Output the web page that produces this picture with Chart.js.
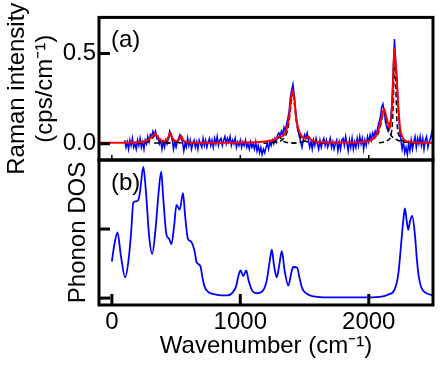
<!DOCTYPE html>
<html>
<head>
<meta charset="utf-8">
<script src="https://cdn.jsdelivr.net/npm/chart.js@4.4.1/dist/chart.umd.min.js"></script>
<style>
  html, body { margin: 0; padding: 0; background: #fff; }
  #wrap { position: relative; width: 442px; height: 367px; }
  #wrap canvas { position: absolute; left: 0; top: 0; }
</style>
</head>
<body>
<div id="wrap">
  <canvas id="dosChart" width="442" height="367"></canvas>
  <canvas id="ramanChart" width="442" height="367"></canvas>
</div>
<script>
// tick positions
const wnTicks = [0, 1000, 2000];
const ramanTicks = [0, 0.5];
const dosTicks = [0, 1];

// measured Raman spectrum, 100..2500 cm-1 every 10 cm-1
const blueStart = 100;
const blueStep = 10;
const ramanMeasured = [
  0.02, -0.02, 0.01, -0.03, 0.02, -0.01, 0.03, -0.02, 0.00, -0.03,
  0.02, -0.01, 0.03, -0.02, 0.01, -0.03, 0.02, 0.00, 0.04, 0.01,
  0.05, 0.04, 0.07, 0.05, 0.07, 0.03, 0.04, 0.00, 0.02, -0.03,
  0.01, -0.02, 0.02, 0.00, 0.03, 0.07, 0.05, 0.02, -0.03, 0.01,
  -0.02, 0.01, 0.03, 0.05, 0.03, 0.01, -0.04, 0.00, -0.02, 0.03,
  -0.01, 0.02, -0.03, 0.00, 0.02, -0.02, 0.01, -0.03, 0.02, 0.00,
  -0.02, 0.03, -0.01, 0.02, -0.02, 0.01, 0.03, -0.01, 0.02, -0.02,
  0.03, 0.00, 0.04, -0.01, 0.02, 0.03, -0.01, 0.02, 0.04, 0.00,
  0.03, 0.01, 0.04, -0.01, 0.02, 0.00, 0.03, -0.02, 0.01, -0.01,
  0.02, -0.02, 0.01, -0.01, 0.02, -0.02, 0.00, -0.03, 0.01, -0.02,
  0.00, -0.03, 0.01, -0.04, -0.01, -0.05, -0.02, -0.06, -0.03, -0.05,
  -0.02, 0.00, -0.03, 0.01, -0.01, 0.02, 0.00, 0.03, 0.01, 0.05,
  0.06, 0.04, 0.07, 0.05, 0.09, 0.07, 0.11, 0.14, 0.18, 0.26,
  0.30, 0.33, 0.27, 0.19, 0.12, 0.07, 0.04, 0.01, -0.02, 0.02,
  0.05, 0.03, 0.06, 0.02, -0.02, 0.01, -0.03, 0.02, -0.01, 0.03,
  0.00, -0.03, 0.02, -0.02, 0.01, 0.03, -0.01, 0.02, -0.02, 0.00,
  0.03, -0.02, 0.01, -0.03, 0.00, 0.02, -0.04, 0.01, -0.03, 0.02,
  0.03, -0.01, 0.04, 0.00, -0.04, 0.02, -0.02, 0.03, -0.03, 0.01,
  -0.02, 0.03, -0.01, 0.04, 0.00, 0.03, -0.03, 0.02, -0.01, 0.04,
  0.01, 0.05, 0.02, 0.06, 0.04, 0.07, 0.05, 0.09, 0.12, 0.15,
  0.20, 0.22, 0.18, 0.12, 0.09, 0.07, 0.10, 0.13, 0.22, 0.40,
  0.58, 0.45, 0.36, 0.20, 0.08, 0.02, -0.03, 0.01, -0.05, -0.02,
  -0.06, 0.00, -0.04, 0.02, -0.03, 0.01, 0.04, -0.02, 0.03, 0.00,
  0.04, -0.01, 0.03, -0.03, 0.02, 0.04, -0.02, 0.01, 0.03, 0.06,
  0.02
];

// fitted curve
const fitWn = [-100, 0, 100, 200, 250, 280, 300, 320, 335, 350, 370, 390, 410, 430, 445, 456, 467, 485, 510, 528, 540, 552, 575, 650, 800, 1000, 1150, 1220, 1260, 1290, 1305, 1320, 1340, 1360, 1380, 1395, 1408, 1420, 1435, 1455, 1480, 1500, 1515, 1528, 1545, 1580, 1700, 1850, 1950, 2000, 2036, 2060, 2075, 2098, 2119, 2140, 2165, 2185, 2199, 2212, 2225, 2243, 2260, 2282, 2320, 2400, 2500];
const fitVal = [0.005, 0.005, 0.006, 0.008, 0.012, 0.02, 0.03, 0.045, 0.055, 0.045, 0.025, 0.015, 0.015, 0.025, 0.045, 0.062, 0.04, 0.018, 0.015, 0.028, 0.045, 0.025, 0.01, 0.006, 0.005, 0.007, 0.01, 0.015, 0.022, 0.035, 0.042, 0.04, 0.05, 0.08, 0.15, 0.25, 0.296, 0.25, 0.14, 0.075, 0.04, 0.03, 0.035, 0.042, 0.025, 0.012, 0.007, 0.007, 0.01, 0.015, 0.028, 0.05, 0.074, 0.139, 0.194, 0.139, 0.083, 0.26, 0.528, 0.42, 0.26, 0.092, 0.04, 0.018, 0.01, 0.006, 0.005];

// fit components [wavenumber, intensity]
const comp335 = [[200, 0.003], [280, 0.01], [310, 0.025], [335, 0.045], [360, 0.025], [390, 0.01], [470, 0.003]];
const comp456 = [[330, 0.003], [420, 0.012], [445, 0.035], [456, 0.055], [467, 0.035], [490, 0.012], [580, 0.003]];
const comp540 = [[420, 0.003], [510, 0.01], [530, 0.025], [540, 0.04], [550, 0.025], [570, 0.01], [680, 0.003]];
const comp1305 = [[1180, 0.003], [1270, 0.012], [1295, 0.03], [1305, 0.038], [1315, 0.03], [1340, 0.012], [1430, 0.003]];
const comp1408 = [[1250, 0.005], [1340, 0.03], [1375, 0.1], [1395, 0.22], [1408, 0.29], [1421, 0.22], [1441, 0.1], [1476, 0.03], [1560, 0.005]];
const comp1528 = [[1400, 0.003], [1490, 0.012], [1515, 0.03], [1528, 0.038], [1540, 0.03], [1565, 0.012], [1650, 0.003]];
const comp2119 = [[1960, 0.01], [2030, 0.025], [2075, 0.06], [2098, 0.12], [2119, 0.18], [2140, 0.12], [2163, 0.06], [2210, 0.025], [2280, 0.01], [2380, 0.005]];
const comp2203 = [[2080, 0.005], [2150, 0.02], [2180, 0.08], [2192, 0.25], [2201, 0.5], [2210, 0.32], [2220, 0.12], [2240, 0.04], [2290, 0.01], [2380, 0.004]];

// phonon density of states
const dosWn = [0, 20, 44, 70, 103, 130, 150, 167, 185, 206, 220, 245, 265, 290, 314, 340, 365, 384, 400, 425, 445, 464, 485, 503, 528, 554, 570, 592, 615, 644, 660, 690, 705, 721, 750, 786, 850, 900, 940, 967, 985, 1002, 1023, 1046, 1065, 1095, 1130, 1173, 1205, 1230, 1245, 1262, 1284, 1305, 1323, 1345, 1374, 1395, 1412, 1443, 1460, 1482, 1520, 1559, 1700, 1900, 2000, 2100, 2150, 2200, 2230, 2255, 2270, 2281, 2295, 2307, 2322, 2338, 2360, 2375, 2390, 2410, 2440, 2480, 2500];
const dosVal = [0.53, 0.78, 0.95, 0.62, 0.30, 0.55, 0.95, 1.38, 1.40, 1.42, 1.55, 1.90, 1.55, 0.90, 0.64, 1.0, 1.55, 1.83, 1.45, 0.92, 0.86, 0.78, 1.05, 1.35, 1.28, 1.52, 1.2, 0.86, 0.82, 0.68, 0.52, 0.46, 0.30, 0.17, 0.09, 0.06, 0.04, 0.04, 0.08, 0.17, 0.32, 0.40, 0.32, 0.40, 0.25, 0.10, 0.07, 0.10, 0.25, 0.55, 0.70, 0.48, 0.30, 0.50, 0.68, 0.40, 0.18, 0.35, 0.45, 0.44, 0.30, 0.14, 0.06, 0.03, 0.01, 0.01, 0.01, 0.02, 0.05, 0.12, 0.35, 0.85, 1.15, 1.30, 1.12, 0.99, 1.12, 1.19, 0.9, 0.55, 0.3, 0.15, 0.08, 0.05, 0.04];

Chart.defaults.font.family = '"Liberation Sans", Arial, sans-serif';
Chart.defaults.color = '#000';

const pairs = (xs, ys) => xs.map((x, i) => ({ x: x, y: ys[i] }));
const fromPairs = list => list.map(p => ({ x: p[0], y: p[1] }));

// frame, inward ticks and panel letter
const framePlugin = {
  id: 'frame',
  afterDraw(chart, args, opts) {
    const { ctx, chartArea: a, scales } = chart;
    const seg = (x1, y1, x2, y2) => { ctx.beginPath(); ctx.moveTo(x1, y1); ctx.lineTo(x2, y2); ctx.stroke(); };
    ctx.save();
    ctx.strokeStyle = '#000';
    ctx.lineWidth = 3;
    opts.yTicks.forEach(v => {
      const y = scales.y.getPixelForValue(v);
      seg(a.left, y, a.left + 11, y);
    });
    ctx.lineWidth = opts.xTickWidth;
    opts.xTicks.forEach(v => {
      const x = scales.x.getPixelForValue(v);
      seg(x, a.bottom, x, a.bottom - opts.xTickLen);
    });
    ctx.lineWidth = 3;
    ctx.strokeRect(a.left, a.top, a.right - a.left, a.bottom - a.top);
    ctx.fillStyle = '#000';
    ctx.font = '24px "Liberation Sans", Arial, sans-serif';
    ctx.textBaseline = 'middle';
    ctx.fillText(opts.label, a.left + 12, a.top + 23);
    ctx.restore();
  }
};

const fixedTicks = list => s => { s.ticks = list.map(v => ({ value: v })); };

function compSet(list) {
  return {
    data: fromPairs(list),
    borderColor: '#000',
    borderWidth: 1.5,
    borderDash: [5, 3],
    pointRadius: 0,
    cubicInterpolationMode: 'monotone',
    order: 1
  };
}

new Chart(document.getElementById('ramanChart'), {
  type: 'line',
  data: {
    datasets: [
      {
        data: pairs(fitWn, fitVal),
        borderColor: '#ff0000',
        borderWidth: 2,
        pointRadius: 0,
        cubicInterpolationMode: 'monotone',
        order: 0
      },
      compSet(comp335), compSet(comp456), compSet(comp540),
      compSet(comp1305), compSet(comp1408), compSet(comp1528),
      compSet(comp2119), compSet(comp2203),
      {
        data: ramanMeasured.map((v, i) => ({ x: blueStart + i * blueStep, y: v })),
        borderColor: '#0000ff',
        borderWidth: 1.5,
        pointRadius: 0,
        tension: 0,
        order: 2
      }
    ]
  },
  options: {
    responsive: false,
    animation: false,
    layout: { padding: { left: 0, right: 9, top: 17, bottom: 207 } },
    plugins: {
      legend: { display: false },
      tooltip: { enabled: false },
      frame: { label: '(a)', yTicks: ramanTicks, xTicks: wnTicks, xTickLen: 5, xTickWidth: 1.5 }
    },
    scales: {
      x: { type: 'linear', min: -100, max: 2500, display: false },
      y: {
        min: -0.09, max: 0.70,
        afterFit(s) { s.width = 99; },
        afterBuildTicks: fixedTicks(ramanTicks),
        grid: { display: false, drawTicks: false },
        border: { display: false },
        ticks: { padding: 3, font: { size: 24 }, callback: v => v.toFixed(1) },
        title: {
          display: true,
          text: ['Raman intensity', '(cps/cm\u207B\u00B9)'],
          font: { size: 24, lineHeight: 1.17 },
          padding: { top: 3, bottom: 0 }
        }
      }
    }
  },
  plugins: [framePlugin]
});

new Chart(document.getElementById('dosChart'), {
  type: 'line',
  data: {
    datasets: [{
      data: pairs(dosWn, dosVal),
      borderColor: '#0000ff',
      borderWidth: 1.8,
      pointRadius: 0,
      cubicInterpolationMode: 'monotone'
    }]
  },
  options: {
    responsive: false,
    animation: false,
    layout: { padding: { left: 0, right: 9, top: 160, bottom: 0 } },
    plugins: {
      legend: { display: false },
      tooltip: { enabled: false },
      frame: { label: '(b)', yTicks: dosTicks, xTicks: wnTicks, xTickLen: 11, xTickWidth: 3 }
    },
    scales: {
      x: {
        type: 'linear', min: -100, max: 2500,
        afterFit(s) { s.height = 62; },
        afterBuildTicks: fixedTicks(wnTicks),
        grid: { display: false, drawTicks: false },
        border: { display: false },
        ticks: { padding: 3, autoSkip: false, maxRotation: 0, font: { size: 24 }, callback: v => String(v) },
        title: {
          display: true,
          text: 'Wavenumber (cm\u207B\u00B9)',
          font: { size: 24, lineHeight: 1.17 },
          padding: { top: 0, bottom: 7 }
        }
      },
      y: {
        min: -0.1, max: 2.0,
        afterFit(s) { s.width = 99; },
        afterBuildTicks: fixedTicks(dosTicks),
        grid: { display: false, drawTicks: false },
        border: { display: false },
        ticks: { display: false },
        title: {
          display: true,
          text: 'Phonon DOS',
          font: { size: 24, lineHeight: 1.17 },
          padding: { top: 64, bottom: 0 }
        }
      }
    }
  },
  plugins: [framePlugin]
});
</script>
</body>
</html>
